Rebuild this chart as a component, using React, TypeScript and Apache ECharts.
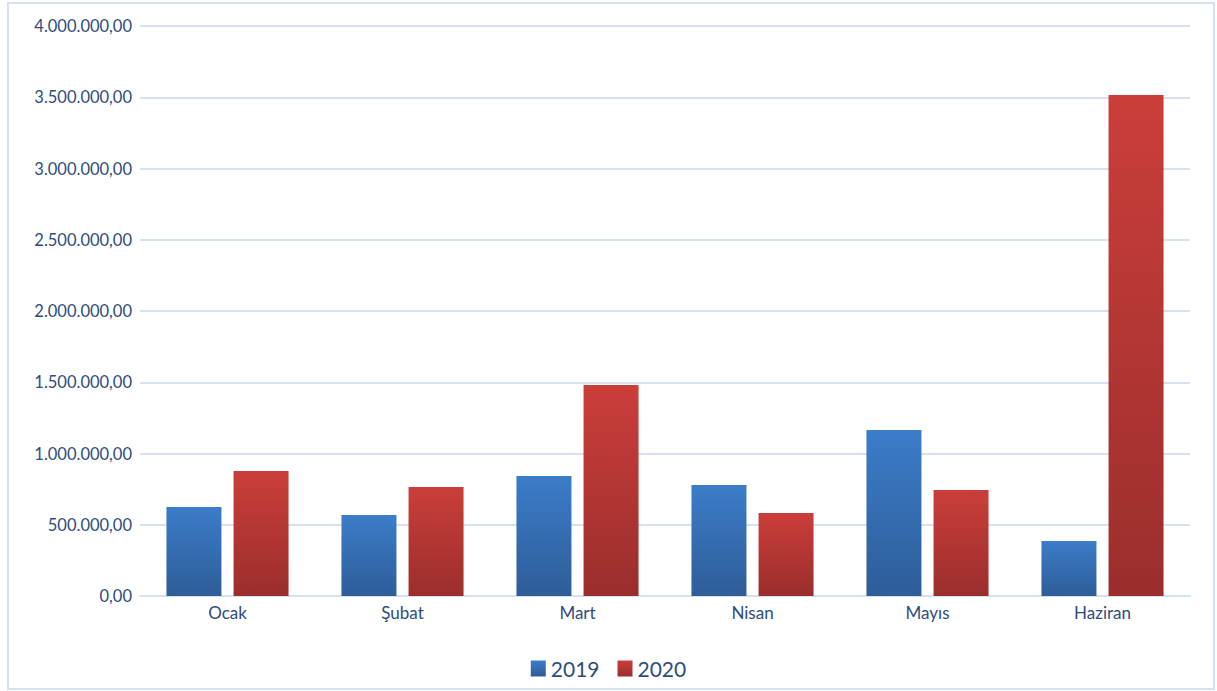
import React, { useEffect, useRef } from "react";
import * as echarts from "echarts";

const categories = ["Ocak", "Şubat", "Mart", "Nisan", "Mayıs", "Haziran"];
const values2019 = [625000, 568000, 842000, 779000, 1165000, 386000];
const values2020 = [877000, 765000, 1481000, 582000, 744000, 3516000];
const seriesNames = ["2019", "2020"];

function fmtTR(v: number): string {
  const s = Math.round(v).toString().replace(/\B(?=(\d{3})+(?!\d))/g, ".");
  return s + ",00";
}

export default function App() {
  const ref = useRef<HTMLDivElement>(null);
  useEffect(() => {
    if (!ref.current) return;
    const chart = echarts.init(ref.current, undefined, { renderer: "svg" });
    const font = "Lato, 'Open Sans', sans-serif";
    const labelColor = "#2e4d7b";
    chart.setOption({
      animation: false,
      backgroundColor: "#ffffff",
      textStyle: { fontFamily: font },
      graphic: [
        {
          type: "rect",
          shape: { x: 8, y: 3, width: 1206, height: 686 },
          style: { fill: "none", stroke: "#d6e2f2", lineWidth: 2 },
          silent: true,
          z: -1,
        },
      ],
      grid: { left: 140, right: 27, top: 26, bottom: 95, containLabel: false },
      legend: {
        data: seriesNames,
        bottom: 7,
        left: "center",
        itemWidth: 15,
        itemHeight: 16,
        itemGap: 18,
        icon: "rect",
        textStyle: { fontSize: 21, color: labelColor, fontFamily: font },
      },
      xAxis: {
        type: "category",
        data: categories,
        axisLine: { show: true, lineStyle: { color: "#d6e2f2", width: 2 } },
        axisTick: { show: false },
        axisLabel: { color: labelColor, fontSize: 17, margin: 8, fontFamily: font },
      },
      yAxis: {
        type: "value",
        min: 0,
        max: 4000000,
        interval: 500000,
        axisLine: { show: false },
        axisTick: { show: false },
        splitLine: { lineStyle: { color: "#d6e2f2", width: 2 } },
        axisLabel: {
          color: labelColor,
          fontSize: 16.5,
          margin: 8,
          fontFamily: font,
          formatter: (v: number) => fmtTR(v),
        },
      },
      series: [
        {
          name: seriesNames[0],
          type: "bar",
          data: values2019,
          barWidth: 55,
          barGap: "22%",
          itemStyle: {
            color: new echarts.graphic.LinearGradient(0, 0, 0, 1, [
              { offset: 0, color: "#3c7cc9" },
              { offset: 1, color: "#2e5d98" },
            ]),
          },
        },
        {
          name: seriesNames[1],
          type: "bar",
          data: values2020,
          barWidth: 55,
          barGap: "22%",
          itemStyle: {
            color: new echarts.graphic.LinearGradient(0, 0, 0, 1, [
              { offset: 0, color: "#cb3e3a" },
              { offset: 1, color: "#9a2e2d" },
            ]),
          },
        },
      ],
    });
    return () => chart.dispose();
  }, []);
  return (
    <div
      ref={ref}
      style={{ position: "fixed", left: 0, top: 0, width: 1217, height: 691 }}
    />
  );
}
